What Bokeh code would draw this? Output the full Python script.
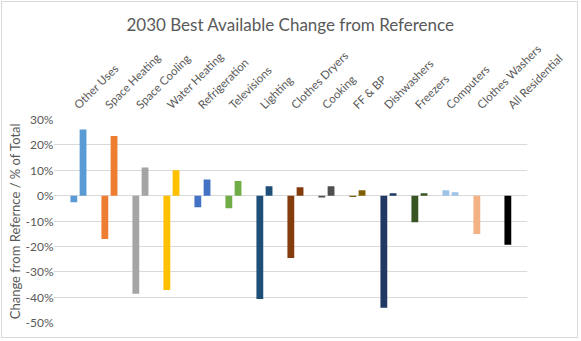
import math
import numpy as np
from bokeh.plotting import figure
from bokeh.models import (Range1d, LinearAxis, FixedTicker, NumeralTickFormatter,
                          ColumnDataSource)
from bokeh.embed import file_html
from bokeh.resources import INLINE

# ---- data (percent change from reference) ----
categories = ["Other Uses", "Space Heating", "Space Cooling", "Water Heating",
              "Refrigeration", "Televisions", "Lighting", "Clothes Dryers",
              "Cooking", "FF & BP", "Dishwashers", "Freezers", "Computers",
              "Clothes Washers", "All Residential"]
first_values = [-2.6, -17.1, -38.7, -37.2, -4.6, -5.0, -40.7, -24.6,
                -0.7, -0.5, -44.2, -10.5, 2.1, -15.1, -19.4]
second_values = [26.1, 23.5, 11.1, 10.0, 6.4, 5.8, 3.7, 3.3,
                 3.7, 2.1, 0.9, 0.9, 1.3, 0.0, 0.0]
y_tick_values = [-50, -40, -30, -20, -10, 0, 10, 20, 30]

# ---- styles ----
colors = ["#5B9BD5", "#ED7D31", "#A5A5A5", "#FFC000", "#4472C4", "#70AD47",
          "#1F4E79", "#843C0C", "#4F4F4F", "#7F6000", "#203864", "#375623",
          "#9DC3E6", "#F4B183", "#000000"]
TEXT = "#595959"
GRID = "#D9D9D9"
FONT = "Lato"
X0, X1 = -0.806, 14.484
LABEL_SHIFT = 0.086

idx = np.arange(len(categories))
src = ColumnDataSource(dict(
    x1=idx - 0.15, x2=idx + 0.147,
    v1=np.array(first_values) / 100.0, v2=np.array(second_values) / 100.0,
    color=colors))

p = figure(width=577, height=337, output_backend="svg", toolbar_location=None,
           x_range=Range1d(X0, X1), y_range=Range1d(-0.5, 0.3),
           x_axis_location=None,
           min_border_left=51, min_border_right=52, min_border_top=117,
           min_border_bottom=17)
p.margin = (1, 0, 0, 1)
p.styles = {"border": "1px solid #D9D9D9"}
p.extra_x_ranges = {"labels": Range1d(X0 + LABEL_SHIFT, X1 + LABEL_SHIFT)}

p.vbar(x="x1", top="v1", bottom=0, width=0.22, fill_color="color",
       line_color=None, source=src)
p.vbar(x="x2", top="v2", bottom=0, width=0.22, fill_color="color",
       line_color=None, source=src)

# y axis
p.yaxis.ticker = FixedTicker(ticks=[t / 100.0 for t in y_tick_values])
p.yaxis.formatter = NumeralTickFormatter(format="0%")
p.yaxis.axis_line_color = None
p.yaxis.major_tick_line_color = None
p.yaxis.major_tick_out = 0
p.yaxis.major_tick_in = 0
p.yaxis.minor_tick_line_color = None
p.yaxis.minor_tick_out = 0
p.yaxis.major_label_text_color = TEXT
p.yaxis.major_label_text_font = FONT
p.yaxis.major_label_text_font_size = "12px"
p.yaxis.major_label_standoff = 0
p.yaxis.axis_label = "Change from Refernce / % of Total"
p.yaxis.axis_label_text_font = FONT
p.yaxis.axis_label_text_font_size = "13px"
p.yaxis.axis_label_text_font_style = "normal"
p.yaxis.axis_label_text_color = TEXT
p.yaxis.axis_label_standoff = 0

for g in p.xgrid:
    g.visible = False
p.ygrid.grid_line_color = GRID
p.ygrid.grid_line_width = 1

# category labels on top
lab = LinearAxis(x_range_name="labels",
                 ticker=FixedTicker(ticks=[float(i) for i in idx]),
                 major_label_overrides={float(i): c for i, c in enumerate(categories)},
                 major_label_orientation=math.pi / 4,
                 axis_line_color=None, major_tick_line_color=None,
                 minor_tick_line_color=None,
                 major_label_text_color=TEXT, major_label_text_font=FONT,
                 major_label_text_font_size="11.5px", major_label_standoff=7)
p.add_layout(lab, "above")

p.title.text = "2030 Best Available Change from Reference"
p.title.align = "center"
p.title.offset = -7
p.title.standoff = -1
p.title.text_font = FONT
p.title.text_font_size = "17px"
p.title.text_font_style = "normal"
p.title.text_color = TEXT

p.outline_line_color = None
p.background_fill_color = "white"
p.border_fill_color = "white"

open("out.html", "w").write(file_html(p, INLINE))
